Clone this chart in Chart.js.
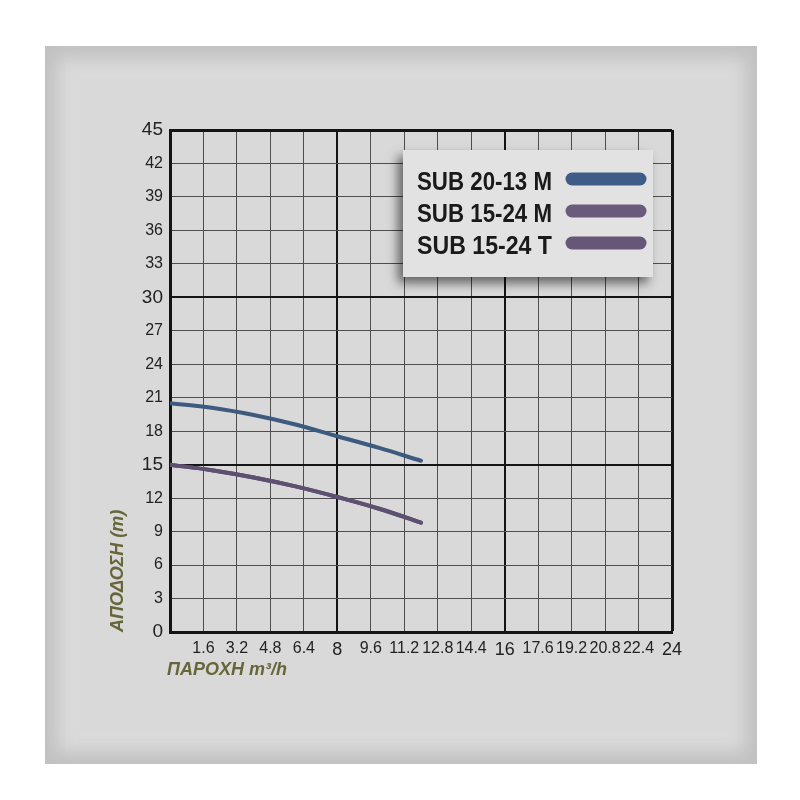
<!DOCTYPE html>
<html>
<head>
<meta charset="utf-8">
<script src="https://cdn.jsdelivr.net/npm/chart.js@4/dist/chart.umd.min.js"></script>
<style>
  html, body { margin: 0; padding: 0; background: #ffffff; }
  #wrap { width: 800px; height: 800px; }
</style>
</head>
<body>
<div id="wrap"><canvas id="c" width="800" height="800"></canvas></div>
<script>
// ---- data ----
const flowQ = [0, 2, 4, 6, 8, 10, 12];
const headSub2013M = [20.5, 20.1, 19.45, 18.6, 17.55, 16.5, 15.35];
const headSub1524M = [15.0, 14.5, 13.85, 13.05, 12.1, 11.05, 9.8];
const headSub1524T = [15.0, 14.5, 13.85, 13.05, 12.1, 11.05, 9.8];
const seriesLabels = ['SUB 20-13 M', 'SUB 15-24 M', 'SUB 15-24 T'];
const xTicks = [0, 1.6, 3.2, 4.8, 6.4, 8, 9.6, 11.2, 12.8, 14.4, 16, 17.6, 19.2, 20.8, 22.4, 24];
const yTicks = [0, 3, 6, 9, 12, 15, 18, 21, 24, 27, 30, 33, 36, 39, 42, 45];
const xTitle = 'ΠΑΡΟΧΗ m³/h';
const yTitle = 'ΑΠΟΔΟΣΗ (m)';

const lineColors = ['#3d5a7f', '#5d5070', '#5d5070'];
const legendColors = ['#3e5c87', '#6a5a7c', '#665678'];

function pts(xs, ys) { return xs.map((x, i) => ({ x: x, y: ys[i] })); }

const FONT = "'Liberation Sans', Arial, sans-serif";
const NARROW = "'Liberation Sans Narrow', 'Arial Narrow', 'Liberation Sans', sans-serif";

const panelPlugin = {
  id: 'panel',
  beforeDraw(chart) {
    const ctx = chart.ctx;
    ctx.save();
    ctx.fillStyle = '#ffffff';
    ctx.fillRect(0, 0, 800, 800);
    const px = 45, py = 46, pw = 712, ph = 718;
    ctx.beginPath();
    ctx.rect(px, py, pw, ph);
    ctx.clip();
    ctx.fillStyle = '#c2c2c2';
    ctx.fillRect(px, py, pw, ph);
    ctx.filter = 'blur(8px)';
    ctx.fillStyle = '#d9d9d9';
    ctx.fillRect(px + 12, py + 12, pw - 24, ph - 24);
    ctx.filter = 'none';
    ctx.restore();
  }
};

const titlesPlugin = {
  id: 'titles',
  afterDraw(chart) {
    const ctx = chart.ctx;
    const a = chart.chartArea;
    ctx.save();
    ctx.fillStyle = '#67663a';
    ctx.font = "italic bold 18px " + FONT;
    ctx.textBaseline = 'middle';
    ctx.textAlign = 'left';
    ctx.fillText(xTitle, a.left - 3, 670);
    ctx.translate(118, a.bottom);
    ctx.rotate(-Math.PI / 2);
    ctx.fillText(yTitle, 0, 0);
    ctx.restore();
  }
};

const legendPlugin = {
  id: 'boxLegend',
  afterDraw(chart) {
    const ctx = chart.ctx;
    const bx = 403, by = 150, bw = 250, bh = 127;
    ctx.save();
    ctx.shadowColor = 'rgba(0,0,0,0.55)';
    ctx.shadowBlur = 10;
    ctx.shadowOffsetX = -5;
    ctx.shadowOffsetY = 6;
    ctx.fillStyle = '#e2e2e2';
    ctx.fillRect(bx, by, bw, bh);
    ctx.restore();

    ctx.save();
    const rows = [179, 211, 243];
    const textLeft = 417, textW = 135;
    chart.data.datasets.forEach((ds, i) => {
      const cy = rows[i];
      ctx.font = "bold 25px " + NARROW;
      ctx.fillStyle = '#1a1a1a';
      ctx.textBaseline = 'alphabetic';
      ctx.textAlign = 'left';
      const words = ds.label.split(' ');
      const wsum = words.reduce((s, w) => s + ctx.measureText(w).width, 0);
      const sp = ctx.measureText(' ').width;
      const natural = wsum + sp * (words.length - 1);
      let sx = 1, gap = sp;
      if (natural > textW) { sx = textW / natural; }
      else { gap = (textW - wsum) / (words.length - 1); }
      ctx.save();
      ctx.translate(textLeft, cy + 11);
      ctx.scale(sx, 1);
      let x = 0;
      words.forEach(w => { ctx.fillText(w, x, 0); x += ctx.measureText(w).width + gap; });
      ctx.restore();
      ctx.strokeStyle = ds.legendColor;
      ctx.lineWidth = 13;
      ctx.lineCap = 'round';
      ctx.beginPath();
      ctx.moveTo(572, cy);
      ctx.lineTo(640, cy);
      ctx.stroke();
    });
    ctx.restore();
  }
};

const ds = [headSub2013M, headSub1524M, headSub1524T].map((arr, i) => ({
  label: seriesLabels[i],
  data: pts(flowQ, arr),
  borderColor: lineColors[i],
  legendColor: legendColors[i],
  borderWidth: 4,
  pointRadius: 0,
  fill: false,
  tension: 0.4,
  borderCapStyle: 'round'
}));

new Chart(document.getElementById('c'), {
  type: 'line',
  data: { datasets: ds },
  options: {
    responsive: false,
    animation: false,
    layout: { padding: { left: 0, top: 130, right: 128, bottom: 0 } },
    plugins: { legend: { display: false }, tooltip: { enabled: false } },
    scales: {
      x: {
        type: 'linear',
        min: 0, max: 24,
        afterBuildTicks: (s) => { s.ticks = xTicks.map(v => ({ value: v })); },
        afterFit: (s) => { s.height = 168; },
        grid: {
          drawTicks: false,
          color: (c) => (c.tick && c.tick.value % 8 === 0) ? '#141414' : '#4e4e4e',
          lineWidth: (c) => {
            const v = c.tick ? c.tick.value : 0;
            if (v === 24) return 3;
            return v % 8 === 0 ? 2 : 1;
          }
        },
        border: { display: true, color: '#141414', width: 3 },
        ticks: {
          autoSkip: false, maxRotation: 0, padding: 7, color: '#222',
          callback: (v) => v === 0 ? '' : String(v),
          font: (c) => (c.tick && c.tick.value % 8 === 0)
            ? { family: FONT, size: 18 }
            : { family: NARROW, size: 16 }
        }
      },
      y: {
        type: 'linear',
        min: 0, max: 45,
        afterBuildTicks: (s) => { s.ticks = yTicks.map(v => ({ value: v })); },
        afterFit: (s) => { s.width = 170; },
        grid: {
          drawTicks: false,
          color: (c) => (c.tick && c.tick.value % 15 === 0) ? '#141414' : '#4e4e4e',
          lineWidth: (c) => {
            const v = c.tick ? c.tick.value : 0;
            if (v === 45) return 3;
            return v % 15 === 0 ? 2 : 1;
          }
        },
        border: { display: true, color: '#141414', width: 3 },
        ticks: {
          padding: 7, color: '#222',
          callback: (v) => String(v),
          font: (c) => (c.tick && c.tick.value % 15 === 0)
            ? { family: FONT, size: 19 }
            : { family: FONT, size: 16 }
        }
      }
    }
  },
  plugins: [panelPlugin, titlesPlugin, legendPlugin]
});
</script>
</body>
</html>
